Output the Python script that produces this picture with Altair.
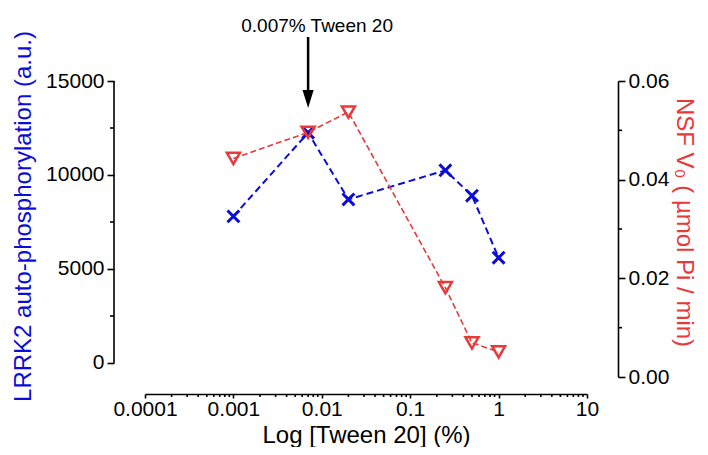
import altair as alt
import pandas as pd

# ---- data ----
tween = [0.001, 0.007, 0.02, 0.25, 0.5, 1.0]            # % Tween 20
lrrk2 = [7800, 12250, 8700, 10250, 8900, 5600]         # LRRK2 auto-phosphorylation (a.u.)
nsf_v0 = [0.0443, 0.0496, 0.0537, 0.0181, 0.0069, 0.0051]  # NSF V0 (umol Pi / min)

x_major = [0.0001, 0.001, 0.01, 0.1, 1, 10]
x_minor = [m * d for d in x_major[:-1] for m in range(2, 10)]
left_major = [0, 5000, 10000, 15000]
left_minor = [2500, 7500, 12500]
right_major = [0, 0.02, 0.04, 0.06]
right_minor = [0.01, 0.03, 0.05]

annot_x = [0.007]
annot_text = ["0.007% Tween 20"]

x_title = "Log [Tween 20] (%)"
left_title = "LRRK2 auto-phosphorylation (a.u.)"
right_title = "NSF V\u2080 ( \u00b5mol Pi / min)"

FONT = "Liberation Sans"
BLUE = "#0c0cd8"
RED = "#e83a3a"
AXW = 1.6

df = pd.DataFrame({"tween": tween, "lrrk2": lrrk2, "nsf": nsf_v0})
ann = pd.DataFrame({"x": annot_x, "text": annot_text})
xmin_df = pd.DataFrame({"v": x_minor})
lmin_df = pd.DataFrame({"v": left_minor})
rmin_df = pd.DataFrame({"v": right_minor})

x_scale = alt.Scale(type="log", domain=[0.0001, 10], nice=False)
left_scale = alt.Scale(domain=[-745, 15000], nice=False, zero=False)
right_scale = alt.Scale(domain=[0, 0.06], nice=False, zero=False)

x_axis = alt.Axis(
    values=x_major, format="~g", tickSize=4, labelFlush=False,
    offset=17, grid=False, labelPadding=0, titlePadding=4,
    labelFontSize=21, titleFontSize=24, labelOverlap=False,
)
left_axis = alt.Axis(
    values=left_major, format="d", tickSize=7, labelFlush=False,
    offset=31, domain=False, grid=False, labelPadding=3, titlePadding=10,
    titleColor=BLUE, labelFontSize=21, titleFontSize=24, titleY=135, labelOverlap=False,
)
right_axis = alt.Axis(
    orient="right", values=right_major, format=".2f", tickSize=7, labelFlush=False,
    offset=31, grid=False, labelPadding=3, titlePadding=3,
    titleColor=RED, labelFontSize=21, titleFontSize=24, titleY=141, labelOverlap=False,
)

base = alt.Chart(df)

# left axis line (only from 0 to 15000, like the reference)
left_line = alt.Chart(ann).mark_rule(color="black", strokeWidth=AXW).encode(
    x=alt.value(-31),
    y=alt.YDatum(0, scale=left_scale),
    y2=alt.Y2Datum(15000),
)
left_minor_ticks = alt.Chart(lmin_df).mark_rule(color="black", strokeWidth=AXW).encode(
    x=alt.value(-31), x2=alt.value(-35),
    y=alt.Y("v:Q", scale=left_scale),
)
x_minor_ticks = alt.Chart(xmin_df).mark_rule(color="black", strokeWidth=AXW).encode(
    x=alt.X("v:Q", scale=x_scale),
    y=alt.value(313), y2=alt.value(316),
)

blue_line = base.mark_line(color=BLUE, strokeDash=[7, 4], strokeWidth=2).encode(
    x=alt.X("tween:Q", scale=x_scale, axis=x_axis, title=x_title),
    y=alt.Y("lrrk2:Q", scale=left_scale, axis=left_axis, title=left_title),
)
blue_pts = base.mark_point(
    shape="M-1,-1L1,1M-1,1L1,-1", filled=False, size=140, strokeWidth=3,
    color=BLUE, opacity=1,
).encode(
    x=alt.X("tween:Q", scale=x_scale),
    y=alt.Y("lrrk2:Q", scale=left_scale),
)

arrow_shaft = alt.Chart(ann).mark_rule(color="black", strokeWidth=2.5).encode(
    x=alt.X("x:Q", scale=x_scale),
    y=alt.YDatum(17340, scale=left_scale),
    y2=alt.Y2Datum(14400),
)
arrow_head = alt.Chart(ann).mark_point(
    shape="M-0.62,-1L0.62,-1L0,1Z", filled=True, color="black", size=324, opacity=1,
).encode(
    x=alt.X("x:Q", scale=x_scale),
    y=alt.YDatum(14043, scale=left_scale),
)
arrow_text = alt.Chart(ann).mark_text(
    fontSize=19, font=FONT, color="black", dx=9, baseline="middle",
).encode(
    x=alt.X("x:Q", scale=x_scale),
    y=alt.YDatum(17925, scale=left_scale),
    text="text:N",
)

red_line = base.mark_line(color=RED, strokeDash=[6, 3], strokeWidth=1.6).encode(
    x=alt.X("tween:Q", scale=x_scale),
    y=alt.Y("nsf:Q", scale=right_scale, axis=right_axis, title=right_title),
)
red_pts = base.mark_point(
    shape="triangle-down", filled=False, size=170, strokeWidth=2.5,
    color=RED, opacity=1,
).encode(
    x=alt.X("tween:Q", scale=x_scale),
    y=alt.Y("nsf:Q", scale=right_scale),
)
right_minor_ticks = alt.Chart(rmin_df).mark_rule(color="black", strokeWidth=AXW).encode(
    x=alt.value(473), x2=alt.value(477),
    y=alt.Y("v:Q", scale=right_scale),
)

blue_group = alt.layer(blue_line, blue_pts, left_line, left_minor_ticks, x_minor_ticks,
                       arrow_shaft, arrow_head, arrow_text)
red_group = alt.layer(red_line, red_pts, right_minor_ticks)

chart = (
    alt.layer(blue_group, red_group)
    .resolve_scale(y="independent")
    .properties(
        width=442, height=296,
        autosize=alt.AutoSizeParams(type="none"),
        padding={"left": 137, "top": 73, "right": 113, "bottom": 70},
        background="white",
    )
    .configure_view(stroke=None)
    .configure_axis(
        labelFont=FONT, titleFont=FONT, labelColor="black",
        domainColor="black", tickColor="black", domainWidth=AXW, tickWidth=AXW,
        titleFontWeight="normal",
    )
)

chart.save("out.html", embed_options={"renderer": "svg", "actions": False})
